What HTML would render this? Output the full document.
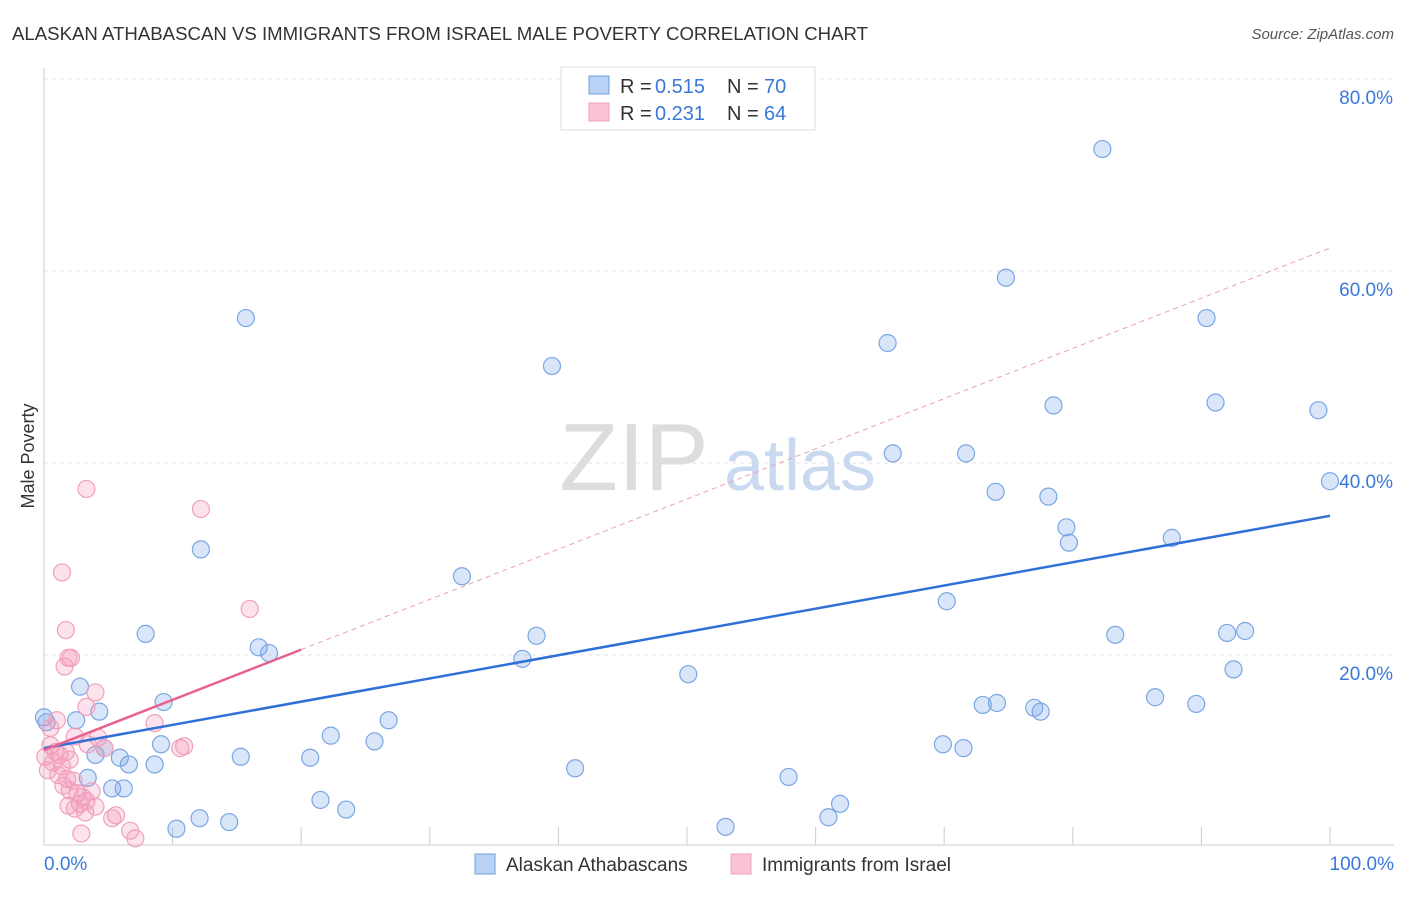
<!DOCTYPE html>
<html><head><meta charset="utf-8"><style>
body{margin:0;background:#fff;font-family:"Liberation Sans",sans-serif;}
svg text{font-family:"Liberation Sans",sans-serif;}
</style></head><body>
<svg width="1406" height="892">
<text x="12" y="40" font-size="18" fill="#333" textLength="856" lengthAdjust="spacingAndGlyphs">ALASKAN ATHABASCAN VS IMMIGRANTS FROM ISRAEL MALE POVERTY CORRELATION CHART</text>
<text x="1394" y="39" font-size="15" fill="#555" text-anchor="end" font-style="italic">Source: ZipAtlas.com</text>
<g id="grid"></g>
<text x="634" y="490" font-size="96" fill="#ddd" font-family="Liberation Serif" text-anchor="middle">ZIP</text>
<text x="800" y="490" font-size="72" fill="#c9d9f0" text-anchor="middle">atlas</text>
<text x="34" y="456" font-size="18" fill="#333" text-anchor="middle" transform="rotate(-90 34 456)">Male Poverty</text>
<g id="marks"></g>
<g>
<rect x="561" y="67" width="254" height="63" fill="#fff" stroke="#ddd"/>
<rect x="589" y="76" width="20" height="18" fill="#b8d1f5" stroke="#6fa0e0"/>
<rect x="589" y="103" width="20" height="18" fill="#f9c3d4" stroke="#f0a0bc"/>
<text x="620" y="93" font-size="20" fill="#333">R =</text>
<text x="655" y="93" font-size="20" fill="#3a78d8">0.515</text>
<text x="727" y="93" font-size="20" fill="#333">N =</text>
<text x="764" y="93" font-size="20" fill="#3a78d8">70</text>
<text x="620" y="120" font-size="20" fill="#333">R =</text>
<text x="655" y="120" font-size="20" fill="#3a78d8">0.231</text>
<text x="727" y="120" font-size="20" fill="#333">N =</text>
<text x="764" y="120" font-size="20" fill="#3a78d8">64</text>
</g>
<g>
<rect x="475" y="854" width="20" height="20" fill="#b8d1f5" stroke="#6fa0e0"/>
<text x="506" y="871" font-size="19" fill="#333">Alaskan Athabascans</text>
<rect x="731" y="854" width="20" height="20" fill="#f9c3d4" stroke="#f0a0bc"/>
<text x="762" y="871" font-size="19" fill="#333">Immigrants from Israel</text>
</g>
</svg>
<script>
const yTicks=[20,40,60,80];
const xTickLabels=["0.0%","100.0%"];
const blueX=[0,0.2,2.5,2.8,4.3,3.4,4,4.7,5.3,6.2,5.9,6.6,7.9,8.6,9.1,9.3,10.3,12.1,12.2,14.4,15.3,15.7,16.7,17.5,20.7,21.5,22.3,23.5,25.7,26.8,32.5,37.2,38.3,39.5,41.3,50.1,53,57.9,61,61.9,65.6,66,69.9,70.2,71.5,71.7,73,74,74.1,74.8,77,77.5,78.1,78.5,79.5,79.7,82.3,83.3,86.4,87.7,89.6,90.4,91.1,92,92.5,93.4,99.1,100];
const blueY=[13.5,13,13.2,16.7,14.1,7.2,9.6,10.3,6.1,6.1,9.3,8.6,22.2,8.6,10.7,15.1,1.9,3,31,2.6,9.4,55.1,20.8,20.2,9.3,4.9,11.6,3.9,11,13.2,28.2,19.6,22,50.1,8.2,18,2.1,7.3,3.1,4.5,52.5,41,10.7,25.6,10.3,41,14.8,37,15,59.3,14.5,14.1,36.5,46,33.3,31.7,72.7,22.1,15.6,32.2,14.9,55.1,46.3,22.3,18.5,22.5,45.5,38.1];
const pinkX=[3.3,12.2,1.4,16,1.7,1.9,2.1,1.6,4,3.3,8.6,10.9,10.6,1,0.5,2.4,4.2,4.7,3.4,0.5,0.9,1.2,1.7,0.1,2,0.7,1.4,0.3,1.1,1.8,2.3,1.5,2,2.6,3,3.7,3.3,2.8,1.9,4,2.4,3.2,5.6,5.3,6.7,7.1,2.9];
const pinkY=[37.3,35.2,28.6,24.8,22.6,19.7,19.7,18.8,16.1,14.6,12.9,10.5,10.3,13.2,12.4,11.5,11.4,10.3,10.7,10.6,9.9,9.6,9.9,9.4,9.1,8.8,8.4,8,7.5,7.1,6.9,6.4,5.9,5.6,5.2,5.8,4.8,4.5,4.3,4.2,4,3.6,3.3,3,1.7,0.9,1.4];
const blueLine=[10.3,34.5];
const pinkLine=[10.1,62.4];
const NS="http://www.w3.org/2000/svg";
const sx=v=>44+v*12.86, sy=v=>847-v*9.6;
function mk(tag,attrs,parent){const e=document.createElementNS(NS,tag);for(const k in attrs)e.setAttribute(k,attrs[k]);parent.appendChild(e);return e;}
const grid=document.getElementById('grid'), marks=document.getElementById('marks');
yTicks.forEach(t=>{
 const l=mk('line',{x1:44,x2:1394,y1:sy(t),y2:sy(t),stroke:'#e2e2e2','stroke-dasharray':'4,4'},grid);
 
 
 const tx=mk('text',{x:1393,y:sy(t)+25,'font-size':19,fill:'#3a78d8','text-anchor':'end'},grid);
 tx.textContent=t.toFixed(1)+'%';
 
 
});
const ax=mk('line',{x1:44,x2:1394,y1:845,y2:845,stroke:'#ccc'},grid);


const ay=mk('line',{x1:44,x2:44,y1:68,y2:845,stroke:'#ccc'},grid);


for(let i=0;i<=10;i++){const t=mk('line',{x1:sx(i*10),x2:sx(i*10),y1:827,y2:845,stroke:'#ccc'},grid);
 
 }
[[0,'start',44],[1,'end',1394]].forEach(([i,a,x])=>{const t=mk('text',{x:x,y:870,'font-size':19,fill:'#3a78d8','text-anchor':a},grid);t.textContent=xTickLabels[i];
 
 });
blueX.forEach((x,i)=>{const c=mk('circle',{cx:sx(x),cy:sy(blueY[i]),r:8.5,fill:'rgba(120,165,235,0.28)',stroke:'#7aa6e3','stroke-width':1.2},marks);
 
 });
pinkX.forEach((x,i)=>{const c=mk('circle',{cx:sx(x),cy:sy(pinkY[i]),r:8.5,fill:'rgba(245,150,185,0.28)',stroke:'#f0a0bc','stroke-width':1.2},marks);
 
 });
const bl=mk('line',{x1:sx(0),y1:sy(blueLine[0]),x2:sx(100),y2:sy(blueLine[1]),stroke:'#2f6fd6','stroke-width':2.5},marks);


const pv=x=>pinkLine[0]+(pinkLine[1]-pinkLine[0])*x/100;
const pl=mk('line',{x1:sx(0),y1:sy(pv(0)),x2:sx(20),y2:sy(pv(20)),stroke:'#e8628f','stroke-width':2.5},marks);


const pd=mk('line',{x1:sx(20),y1:sy(pv(20)),x2:sx(100),y2:sy(pv(100)),stroke:'#eaa0b8','stroke-width':1,'stroke-dasharray':'5,4'},marks);


</script>
</body></html>
